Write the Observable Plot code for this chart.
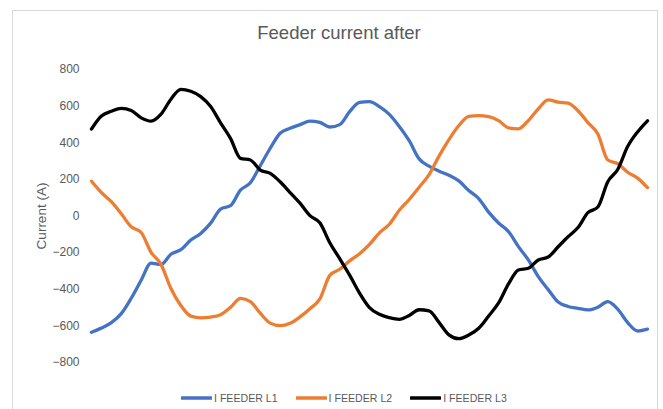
<!DOCTYPE html>
<html><head><meta charset="utf-8">
<script src="https://cdn.jsdelivr.net/npm/d3@7"></script>
<script src="https://cdn.jsdelivr.net/npm/@observablehq/plot@0.6"></script>
<style>
body{margin:0;background:#fff;font-family:"Liberation Sans",Arial,sans-serif;}
#wrap{position:relative;width:663px;height:409px;overflow:hidden;background:#fff;}
#frame{position:absolute;left:12px;top:10px;width:646px;height:420px;border:1px solid #d9d9d9;box-sizing:border-box;pointer-events:none;}
#title{height:50px;box-sizing:border-box;padding-top:24px;padding-left:15px;text-align:center;font-size:18.5px;line-height:18px;color:#595959;}
#chart{height:330px;}
#chart svg{display:block;}
#legend{height:29px;box-sizing:border-box;padding-top:7px;padding-left:181px;display:flex;align-items:center;font-size:10.6px;line-height:14px;color:#595959;}
.item{display:flex;align-items:center;margin-right:18px;}
.item svg{display:block;margin-right:2px;}
</style></head>
<body>
<div id="wrap">
<div id="frame"></div>
<div id="title">Feeder current after</div>
<div id="chart"></div>
<div id="legend"></div>
</div>
<script>
const seriesNames = ["I FEEDER L1", "I FEEDER L2", "I FEEDER L3"];
const seriesColors = ["#4472C4", "#ED7D31", "#000000"];
const yTicks = [-800, -600, -400, -200, 0, 200, 400, 600, 800];
const sample = [0,1,2,3,4,5,6,7,8,9,10,11,12,13,14,15,16,17,18,19,20,21,22,23,24,25,26,27,28,29,30,31,32,33,34,35,36,37,38,39,40,41,42,43,44,45,46,47,48,49,50,51,52,53,54,55,56];
const feederL1 = [-635,-612,-582,-533,-449,-351,-257,-265,-209,-184,-131,-95,-39,38,56,141,182,275,370,452,479,499,518,511,486,499,570,620,625,597,555,489,411,312,272,245,223,192,139,95,21,-38,-85,-167,-240,-331,-402,-470,-494,-504,-513,-498,-468,-509,-582,-628,-618];
const feederL2 = [190,128,78,12,-59,-90,-198,-264,-396,-489,-547,-556,-552,-539,-499,-450,-468,-531,-585,-599,-586,-551,-506,-453,-324,-291,-245,-206,-155,-92,-45,31,90,157,226,327,417,494,544,548,543,521,481,476,521,585,634,622,616,575,510,448,306,286,239,207,155];
const feederL3 = [475,546,572,588,576,536,518,556,638,692,681,652,598,509,424,315,306,251,233,187,128,70,2,-37,-146,-233,-323,-421,-500,-537,-555,-564,-543,-512,-518,-581,-649,-670,-650,-613,-546,-475,-371,-295,-285,-240,-224,-168,-113,-63,18,49,187,254,379,459,520];

const allSeries = [feederL1, feederL2, feederL3];
const rows = [];
allSeries.forEach((vals, k) => vals.forEach((v, i) => rows.push({t: sample[i], value: v, series: seriesNames[k]})));

const plot = Plot.plot({
  width: 663,
  height: 330,
  marginTop: 19,
  marginBottom: 18,
  marginLeft: 91,
  marginRight: 16,
  style: {fontFamily: '"Liberation Sans", Arial, sans-serif', fontSize: "12px", color: "#595959", background: "transparent"},
  x: {domain: [sample[0], sample[sample.length - 1]], axis: null},
  y: {domain: [yTicks[0], yTicks[yTicks.length - 1]]},
  color: {domain: seriesNames, range: seriesColors},
  marks: [
    Plot.axisY({ticks: yTicks, tickSize: 0, tickPadding: 12, fontSize: 12, label: null}),
    Plot.axisY({ticks: [], tickSize: 0, label: "Current (A)", labelAnchor: "center", labelOffset: 55, labelArrow: "none", fontSize: 13.5}),
    Plot.line(rows, {x: "t", y: "value", z: "series", stroke: "series", strokeWidth: 3.3, curve: "monotone-x", strokeLinejoin: "round", strokeLinecap: "round"})
  ]
});
document.getElementById("chart").appendChild(plot);

const legend = document.getElementById("legend");
seriesNames.forEach((name, k) => {
  const item = document.createElement("div");
  item.className = "item";
  item.innerHTML = `<svg width="31" height="6"><line x1="1" y1="3" x2="30" y2="3" stroke="${seriesColors[k]}" stroke-width="3.3" stroke-linecap="round"/></svg><span>${name}</span>`;
  legend.appendChild(item);
});
</script>
</body></html>
